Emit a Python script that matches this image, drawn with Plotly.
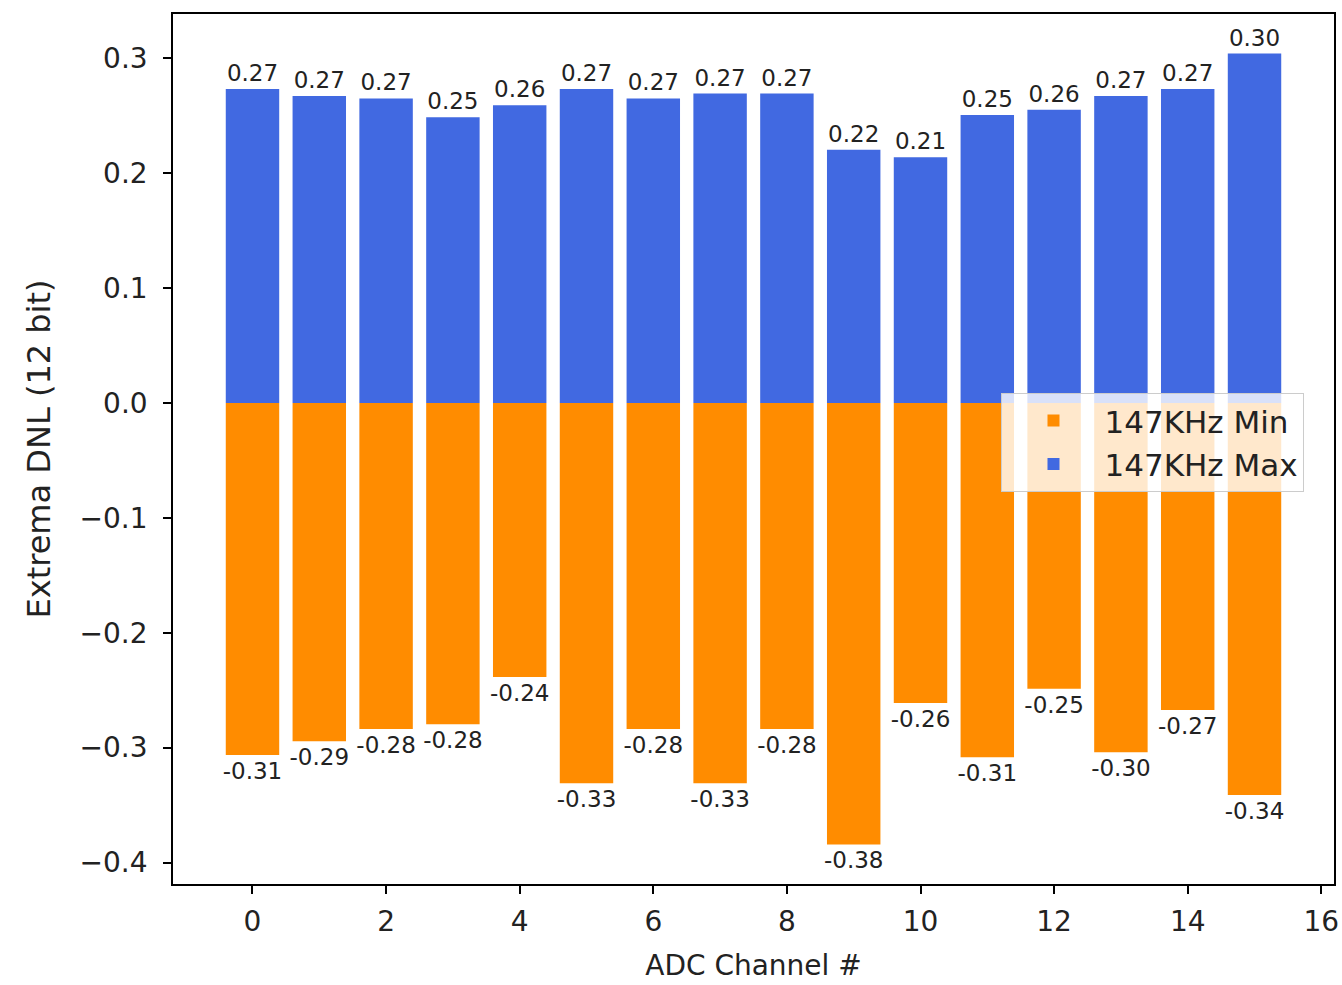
import plotly.graph_objects as go

channels = list(range(16))
dnl_max = [0.2733, 0.2672, 0.2650, 0.2487, 0.2591, 0.2733, 0.2650, 0.2693,
           0.2693, 0.2203, 0.2139, 0.2507, 0.2552, 0.2672, 0.2733, 0.3041]
dnl_min = [-0.3064, -0.2945, -0.2838, -0.2797, -0.2386, -0.3310, -0.2838, -0.3310,
           -0.2838, -0.3843, -0.2612, -0.3084, -0.2487, -0.3041, -0.2672, -0.3412]
series_names = ["147KHz Min", "147KHz Max"]

FONT = "DejaVu Sans"
ORANGE = "#FF8C00"
BLUE = "#4169E1"

fig = go.Figure()
fig.add_trace(go.Bar(
    x=channels, y=dnl_min, width=0.8, name=series_names[0],
    marker=dict(color=ORANGE, line=dict(width=0)),
    text=[f"{v:.2f}" for v in dnl_min], textposition="outside",
    textfont=dict(family=FONT, size=23, color="#222222"),
    constraintext="none", cliponaxis=False,
))
fig.add_trace(go.Bar(
    x=channels, y=dnl_max, width=0.8, name=series_names[1],
    marker=dict(color=BLUE, line=dict(width=0)),
    text=[f"{v:.2f}" for v in dnl_max], textposition="outside",
    textfont=dict(family=FONT, size=23, color="#222222"),
    constraintext="none", cliponaxis=False,
))

axis_common = dict(
    showline=True, linecolor="black", linewidth=1.6, mirror=True,
    ticks="outside", ticklen=8, tickwidth=1.6, tickcolor="black",
    showgrid=False, zeroline=False,
    tickfont=dict(family=FONT, size=28, color="#222222"),
    ticklabeloverflow="allow",
)

fig.update_layout(
    width=1342, height=985,
    margin=dict(l=173, r=3, t=14, b=101),
    paper_bgcolor="white", plot_bgcolor="white",
    barmode="overlay",
    font=dict(family=FONT, size=28, color="#222222"),
    xaxis=dict(range=[-1.19, 16.19], dtick=2, tick0=0,
               ticklabelstandoff=4,
               title=dict(text="ADC Channel #", font=dict(family=FONT, size=28), standoff=18),
               **axis_common),
    yaxis=dict(range=[-0.4187, 0.3385], dtick=0.1, tick0=0, tickformat=".1f",
               ticklabelstandoff=10,
               title=dict(text="Extrema DNL (12 bit)", font=dict(family=FONT, size=32), standoff=19),
               **axis_common),
    legend=dict(x=0.7136, y=0.5644, xanchor="left", yanchor="top",
                bgcolor="rgba(255,255,255,0.8)", bordercolor="#cccccc", borderwidth=1,
                font=dict(family=FONT, size=31, color="#222222"),
                itemwidth=92, tracegroupgap=4,
                traceorder="normal"),
    showlegend=True,
)

fig.write_html("out.html")
